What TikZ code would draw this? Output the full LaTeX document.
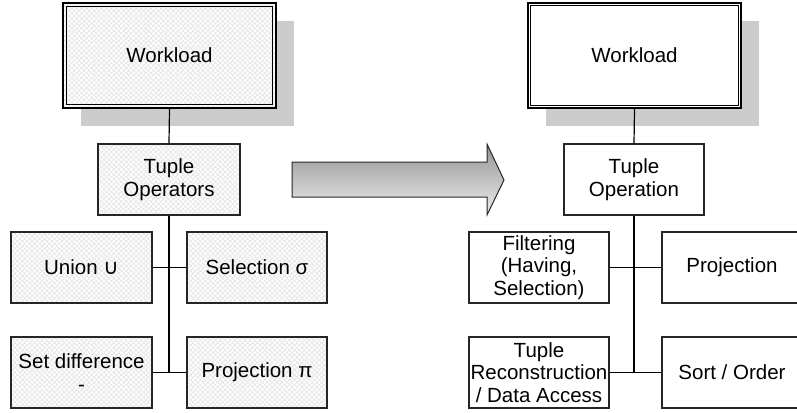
\documentclass[tikz,border=0pt]{standalone}
\usepackage{fontspec}
\setmainfont{Liberation Sans}
\newfontfamily\symfont{DejaVu Sans}
\usetikzlibrary{patterns.meta,shadows}

\begin{document}
\begin{tikzpicture}[x=1pt,y=-1pt,
  font=\fontsize{20.5}{22.5}\selectfont,
  box/.style={draw=black!85, line width=1.2pt, minimum width=141pt,
    minimum height=71pt, inner sep=0pt, align=center},
  hatched/.style={preaction={fill=white},
    preaction={pattern={Lines[angle=45,distance=3.5pt,line width=0.9pt]}, pattern color=black!9},
    pattern={Lines[angle=-45,distance=3.5pt,line width=0.9pt]}, pattern color=black!9},
  plain/.style={fill=white},
  workload/.style={draw=black, line width=1.8pt, minimum width=213pt,
    minimum height=105pt, inner sep=0pt,
    drop shadow={shadow xshift=17.5pt, shadow yshift=-18pt, fill=black!20, opacity=1}},
  inner frame/.style={draw=black, line width=0.9pt},
  link/.style={draw=black, line width=1.2pt}]

\useasboundingbox (0,0) rectangle (797,412);

% ---------- left tree: relational operators ----------
\node[workload, hatched] (wl) at (169.5,55.5) {Workload};
\draw[inner frame] ([shift={(3.8pt,3.8pt)}]wl.south west) rectangle ([shift={(-3.8pt,-3.8pt)}]wl.north east);
\node[box, hatched, minimum width=142pt] (to) at (169,179.5) {Tuple\\Operators};
\node[box, hatched] (un) at (81.5,267.5) {Union {\symfont\fontsize{21}{21}\selectfont ∪}};
\node[box, hatched, minimum width=140pt] (se) at (257,267.5) {Selection σ};
\node[box, hatched] (sd) at (81.5,372.5) {Set difference\\-};
\node[box, hatched, minimum width=140pt] (pr) at (257,372.5) {Projection π};

\coordinate (lj2) at (169,372.5);
\draw[link] (wl.south) -- (to.north);
\draw[link] (to.south) -- (lj2);
\draw[link] (un.east) -- (se.west);
\draw[link] (sd.east) -- (pr.west);

% ---------- transition arrow ----------
\draw[line width=1pt, draw=black!85, top color=black!42, bottom color=black!7]
  (292,162) -- (487,162) -- (487,144) -- (504,180) -- (487,215) -- (487,197) -- (292,197) -- cycle;

% ---------- right tree: tuple operations ----------
\node[workload, plain] (wr) at (634.5,55.5) {Workload};
\draw[inner frame] ([shift={(3.8pt,3.8pt)}]wr.south west) rectangle ([shift={(-3.8pt,-3.8pt)}]wr.north east);
\node[box, plain, minimum width=140pt] (top) at (634,179.5) {Tuple\\Operation};
\node[box, plain, minimum width=140pt] (fi) at (539,267.5) {Filtering\\(Having,\\Selection)};
\node[box, plain, minimum width=140pt] (rp) at (732,267.5) {Projection};
\node[box, plain, minimum width=140pt] (tr) at (539,372.5) {Tuple\\Reconstruction\\/ Data Access};
\node[box, plain, minimum width=140pt] (so) at (732,372.5) {Sort / Order};

\coordinate (rj2) at (634,372.5);
\draw[link] (wr.south) -- (top.north);
\draw[link] (top.south) -- (rj2);
\draw[link] (fi.east) -- (rp.west);
\draw[link] (tr.east) -- (so.west);
\end{tikzpicture}
\end{document}
